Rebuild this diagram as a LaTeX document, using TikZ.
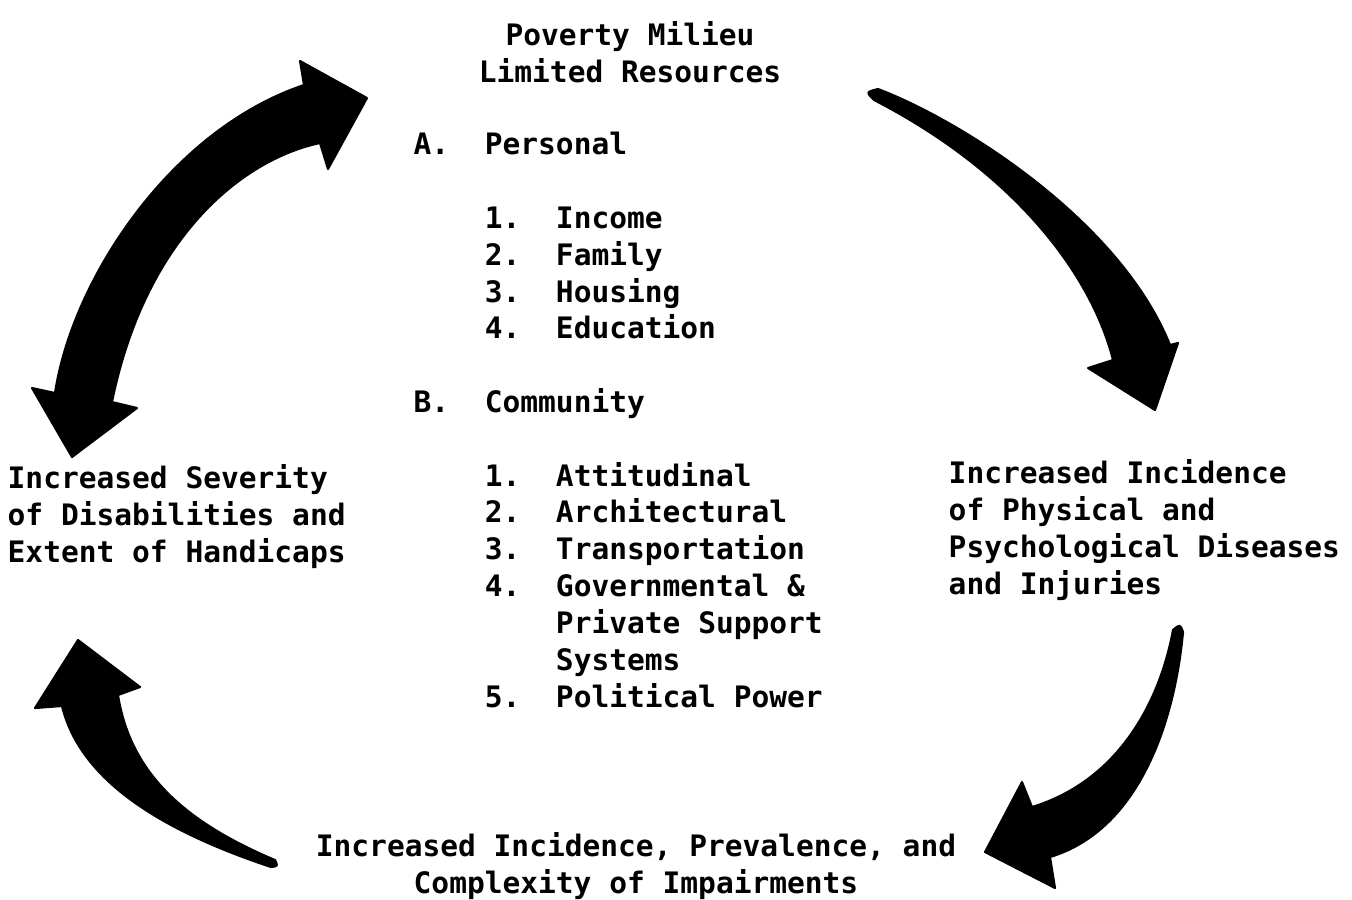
\documentclass[tikz,border=0pt]{standalone}
\usepackage{fontspec}
\newfontfamily\typer{DejaVu Sans Mono}
\newcommand{\indentby}[1]{\hphantom{#1}}

\begin{document}
\begin{tikzpicture}[
        x=0.01cm, y=-0.01cm,
        textblock/.style={font={\typer\bfseries\fontsize{8.4}{10.47}\selectfont\frenchspacing}, inner sep=0pt, anchor=base west, align=left},
        bigarrow/.style={fill=black, draw=black, line width=0.6pt, line join=round}
    ]
    \useasboundingbox (0,0) rectangle (1352,899);

    % Nodes (anchored on the baseline of their last line)
    \node[textblock, align=center, anchor=base] (poverty) at (630,82) {Poverty Milieu\\Limited Resources};
    \node[textblock] (resources) at (413,707) {A.~~Personal\\[10.47pt]
        \indentby{0000}1.~~Income\\
        \indentby{0000}2.~~Family\\
        \indentby{0000}3.~~Housing\\
        \indentby{0000}4.~~Education\\[10.47pt]
        B.~~Community\\[10.47pt]
        \indentby{0000}1.~~Attitudinal\\
        \indentby{0000}2.~~Architectural\\
        \indentby{0000}3.~~Transportation\\
        \indentby{0000}4.~~Governmental \&\\
        \indentby{00000000}Private Support\\
        \indentby{00000000}Systems\\
        \indentby{0000}5.~~Political Power};
    \node[textblock] (diseases) at (948,594) {Increased Incidence\\of Physical and\\Psychological Diseases\\and Injuries};
    \node[textblock, align=center, anchor=base] (impairments) at (636,893) {Increased Incidence, Prevalence, and\\Complexity of Impairments};
    \node[textblock] (severity) at (7,562) {Increased Severity\\of Disabilities and\\Extent of Handicaps};

    % Arrows
    \fill[bigarrow] (304,85) -- (300,61) -- (367,98) -- (328,169) -- (320,143)
        .. controls (240,160) and (145,240) .. (112,402) -- (137,408) -- (72,457) -- (32,388) -- (55,393)
        .. controls (72,280) and (170,130) .. (304,85) -- cycle;
    \fill[bigarrow] (878,89) .. controls (960,120) and (1120,220) .. (1170,345) -- (1178,343) -- (1155,410) -- (1088,368) -- (1113,360)
        .. controls (1090,270) and (1010,170) .. (874,100) .. controls (866,92) .. (878,89) -- cycle;
    \fill[bigarrow] (1173,630) .. controls (1160,700) and (1120,780) .. (1032,807) -- (1022,782) -- (985,852) -- (1055,888) -- (1050,857)
        .. controls (1140,830) and (1175,720) .. (1183,632) .. controls (1180,624) .. (1173,630) -- cycle;
    \fill[bigarrow] (62,706) .. controls (80,780) and (160,830) .. (271,867) .. controls (278,866) .. (275,860)
        .. controls (180,820) and (130,770) .. (118,695) -- (140,687) -- (78,640) -- (35,708) -- cycle;

\end{tikzpicture}
\end{document}
